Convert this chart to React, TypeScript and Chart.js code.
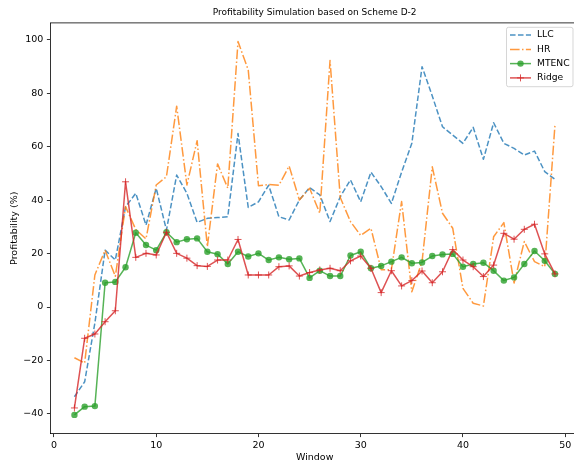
import React, { useEffect, useRef } from "react";
import { Chart, registerables } from "chart.js";

Chart.register(...registerables);

const windows = [
  2, 3, 4, 5, 6, 7, 8, 9, 10, 11, 12, 13, 14, 15, 16, 17, 18, 19, 20, 21, 22, 23, 24, 25,
  26, 27, 28, 29, 30, 31, 32, 33, 34, 35, 36, 37, 38, 39, 40, 41, 42, 43, 44, 45, 46, 47, 48, 49,
];

const llc = [
  -33.6, -28, -6, 21.3, 17.6, 37.5, 42.6, 30.7, 44.5, 28.8, 49.4, 42.6, 31.7, 33.2, 33.5, 33.8,
  65, 37.3, 39.4, 45.6, 33.8, 32.6, 40.1, 44.7, 42, 32, 41.3, 47.6, 39.4, 50.5, 45.1, 38.8,
  50.5, 61.3, 90, 79, 67.5, 64.4, 61.3, 67.3, 55.3, 69, 61.3, 59.4, 56.9, 58.4, 50.7, 47.8,
];

const hr = [
  -19, -21, 12, 21.3, 11.5, 37.6, 29, 25.5, 45.7, 48.8, 75.2, 45.7, 62.3, 22.6, 53.6, 44.5,
  99.4, 88.8, 45.4, 45.9, 45.6, 52.8, 40.1, 44.5, 35.1, 92.3, 41, 32, 26.8, 29.5, 14, 14,
  39.5, 5.7, 17, 52.5, 35.1, 29.5, 7, 1.4, 0.4, 26.3, 31.6, 9, 24.5, 17, 15.1, 68.2,
];

const mtenc = [
  -40.4, -37.3, -37.1, 9.1, 9.4, 14.9, 27.8, 23.2, 21.3, 28, 24.3, 25.4, 25.7, 20.7, 19.8, 16.1,
  20.7, 18.9, 20.1, 17.6, 18.6, 17.9, 18.2, 10.9, 13.6, 11.6, 11.6, 19.3, 20.7, 14.5, 15.4, 17,
  18.6, 16.4, 16.7, 19.1, 19.7, 19.9, 15.1, 16.1, 16.6, 13.6, 9.9, 11.1, 16.1, 21, 17.3, 12.4,
];

const ridge = [
  -37.8, -11.7, -10.1, -5.5, -1.4, 46.9, 18.6, 20.1, 19.5, 28, 20.1, 18.3, 15.5, 15.2, 17.6, 17.6,
  25.3, 12, 12, 12, 15.1, 15.4, 11.6, 12.9, 13.9, 14.5, 13.6, 17.3, 19.1, 14.5, 5.4, 13.6,
  7.9, 9.9, 13.5, 9.1, 13.2, 21.5, 17.6, 15.1, 11.4, 15.7, 27.6, 25.4, 29.1, 31, 19.9, 12.4,
];

const seriesNames = ["LLC", "HR", "MTENC", "Ridge"];
const xTicks = [0, 10, 20, 30, 40, 50];
const yTicks = [-40, -20, 0, 20, 40, 60, 80, 100];
const titleText = "Profitability Simulation based on Scheme D-2";
const xLabel = "Window";
const yLabel = "Profitability (%)";

const FONT = "'DejaVu Sans', sans-serif";

const colors = [
  "rgba(31,119,180,0.8)",
  "rgba(255,127,14,0.8)",
  "rgba(44,160,44,0.8)",
  "rgba(214,39,40,0.8)",
];

const fmt = (v: number) => (v < 0 ? "\u2212" + Math.abs(v) : String(v));

const framePlugin = {
  id: "frame",
  afterDraw(chart: any) {
    const { ctx, chartArea } = chart;
    ctx.save();
    ctx.strokeStyle = "#000";
    ctx.lineWidth = 0.8;
    ctx.strokeRect(chartArea.left, chartArea.top, chartArea.right - chartArea.left, chartArea.bottom - chartArea.top);
    ctx.fillStyle = "#000";
    ctx.font = "9px " + FONT;
    ctx.textAlign = "center";
    ctx.textBaseline = "middle";
    ctx.fillText(titleText, (chartArea.left + chartArea.right) / 2, 12.5);
    ctx.restore();
  },
};

const legendPlugin = {
  id: "mplLegend",
  afterDraw(chart: any) {
    const ctx = chart.ctx;
    const bx = 506.5, by = 27.3, bw = 66.5, bh = 59.4, r = 2;
    ctx.save();
    ctx.beginPath();
    ctx.moveTo(bx + r, by);
    ctx.lineTo(bx + bw - r, by);
    ctx.quadraticCurveTo(bx + bw, by, bx + bw, by + r);
    ctx.lineTo(bx + bw, by + bh - r);
    ctx.quadraticCurveTo(bx + bw, by + bh, bx + bw - r, by + bh);
    ctx.lineTo(bx + r, by + bh);
    ctx.quadraticCurveTo(bx, by + bh, bx, by + bh - r);
    ctx.lineTo(bx, by + r);
    ctx.quadraticCurveTo(bx, by, bx + r, by);
    ctx.closePath();
    ctx.fillStyle = "rgba(255,255,255,0.8)";
    ctx.fill();
    ctx.strokeStyle = "rgba(204,204,204,0.8)";
    ctx.lineWidth = 1;
    ctx.stroke();
    const rows = [35, 49.4, 63.6, 77.9];
    const hx0 = 510, hx1 = 531, tx = 537;
    chart.data.datasets.forEach((ds: any, i: number) => {
      const y = rows[i];
      ctx.save();
      ctx.strokeStyle = ds.borderColor;
      ctx.lineWidth = ds.borderWidth;
      ctx.setLineDash(ds.borderDash || []);
      ctx.beginPath();
      ctx.moveTo(hx0, y);
      ctx.lineTo(hx1, y);
      ctx.stroke();
      ctx.setLineDash([]);
      const cx = (hx0 + hx1) / 2;
      if (ds.pointStyle === "circle") {
        ctx.fillStyle = ds.pointBackgroundColor;
        ctx.beginPath();
        ctx.arc(cx, y, ds.pointRadius, 0, Math.PI * 2);
        ctx.fill();
      } else if (ds.pointStyle === "cross") {
        ctx.strokeStyle = ds.pointBorderColor;
        ctx.lineWidth = ds.pointBorderWidth;
        ctx.beginPath();
        ctx.moveTo(cx - ds.pointRadius, y);
        ctx.lineTo(cx + ds.pointRadius, y);
        ctx.moveTo(cx, y - ds.pointRadius);
        ctx.lineTo(cx, y + ds.pointRadius);
        ctx.stroke();
      }
      ctx.restore();
      ctx.fillStyle = "#000";
      ctx.font = "9.2px " + FONT;
      ctx.textBaseline = "middle";
      ctx.textAlign = "left";
      ctx.fillText(ds.label, tx, y);
    });
    ctx.restore();
  },
};

export default function App() {
  const ref = useRef<HTMLCanvasElement | null>(null);
  useEffect(() => {
    if (!ref.current) return;
    const mk = (vals: number[]) => windows.map((w, i) => ({ x: w, y: vals[i] }));
    const chart = new Chart(ref.current, {
      type: "line",
      data: {
        datasets: [
          {
            label: seriesNames[0],
            data: mk(llc),
            borderColor: colors[0],
            borderWidth: 1.5,
            borderDash: [5.55, 2.4],
            pointRadius: 0,
            order: 4,
            fill: false,
            tension: 0,
            borderJoinStyle: "round",
          },
          {
            label: seriesNames[1],
            data: mk(hr),
            borderColor: colors[1],
            borderWidth: 1.5,
            borderDash: [9.6, 2.4, 1.5, 2.4],
            pointRadius: 0,
            order: 3,
            fill: false,
            tension: 0,
            borderJoinStyle: "round",
          },
          {
            label: seriesNames[2],
            data: mk(mtenc),
            borderColor: colors[2],
            borderWidth: 1.5,
            pointStyle: "circle",
            pointRadius: 3.2,
            pointBackgroundColor: colors[2],
            pointBorderColor: colors[2],
            pointBorderWidth: 0,
            order: 2,
            fill: false,
            tension: 0,
            borderJoinStyle: "round",
          },
          {
            label: seriesNames[3],
            data: mk(ridge),
            borderColor: colors[3],
            borderWidth: 1.5,
            pointStyle: "cross",
            pointRadius: 3.5,
            pointBackgroundColor: colors[3],
            pointBorderColor: colors[3],
            pointBorderWidth: 1,
            order: 1,
            fill: false,
            tension: 0,
            borderJoinStyle: "round",
          },
        ] as any,
      },
      options: {
        responsive: false,
        animation: false,
        devicePixelRatio: 1,
        layout: { padding: { left: 0, right: 4.7, top: 22.9, bottom: 0 } },
        plugins: {
          legend: { display: false },
          tooltip: { enabled: false },
          title: { display: false },
        },
        scales: {
          x: {
            type: "linear",
            min: -0.35,
            max: 51.35,
            afterBuildTicks: (s: any) => {
              s.ticks = xTicks.map((v) => ({ value: v }));
            },
            afterFit: (s: any) => {
              s.height = 29.4;
            },
            ticks: {
              color: "#000",
              font: { family: FONT, size: 9.5 },
              padding: 2.5,
              maxRotation: 0,
              callback: (v: any) => fmt(Number(v)),
            },
            grid: {
              display: true,
              drawOnChartArea: false,
              drawTicks: true,
              tickLength: 3.5,
              color: "#000",
              lineWidth: 0.8,
            },
            border: { display: false },
            title: {
              display: true,
              text: xLabel,
              color: "#000",
              font: { family: FONT, size: 9.5 },
              padding: { top: 0, bottom: 0 },
            },
          },
          y: {
            type: "linear",
            min: -47.4,
            max: 106.4,
            afterBuildTicks: (s: any) => {
              s.ticks = yTicks.map((v) => ({ value: v }));
            },
            afterFit: (s: any) => {
              s.width = 50.4;
            },
            ticks: {
              color: "#000",
              font: { family: FONT, size: 9.5 },
              padding: 3.5,
              callback: (v: any) => fmt(Number(v)),
            },
            grid: {
              display: true,
              drawOnChartArea: false,
              drawTicks: true,
              tickLength: 3.5,
              color: "#000",
              lineWidth: 0.8,
            },
            border: { display: false },
            title: {
              display: true,
              text: yLabel,
              color: "#000",
              font: { family: FONT, size: 9.5 },
              padding: { top: 8.5, bottom: 0 },
            },
          },
        },
      } as any,
      plugins: [framePlugin, legendPlugin],
    });
    return () => chart.destroy();
  }, []);
  return (
    <div
      style={{
        position: "fixed",
        left: 0,
        top: 0,
        width: 574,
        height: 463,
        overflow: "hidden",
        background: "#fff",
      }}
    >
      <canvas ref={ref} width={584} height={463} style={{ width: 584, height: 463, display: "block" }} />
    </div>
  );
}
